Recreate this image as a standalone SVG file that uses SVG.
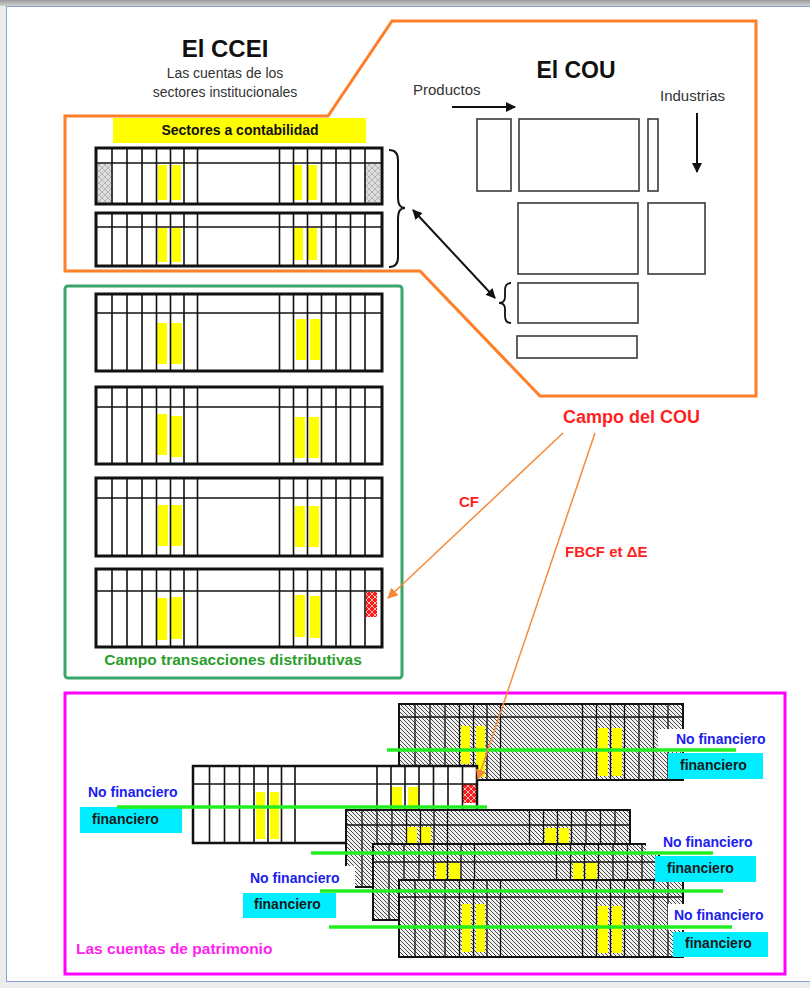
<svg xmlns="http://www.w3.org/2000/svg" width="810" height="988" viewBox="0 0 810 988">
<style>
text{font-family:"Liberation Sans",Arial,sans-serif}
.b{font-weight:bold}
.g{fill:none;stroke:#111;stroke-width:1.6}
.tb{fill:none;stroke:#111;stroke-width:3}
.hb{fill:none;stroke:#111;stroke-width:2}
.hg{fill:none;stroke:#111;stroke-width:1.3}
.y{fill:#ffff00}
.cou{fill:none;stroke:#3a3a3a;stroke-width:1.6}
.gl{stroke:#22ee22;stroke-width:3.5}
.nf{font-weight:bold;font-size:14px;fill:#2020ee}
.fi{font-weight:bold;font-size:14px;fill:#1a1a1a}
.cy{fill:#00eeff}
.wb{fill:#fff}
</style>
<defs>
<linearGradient id="sh" x1="0" y1="0" x2="0" y2="1"><stop offset="0" stop-color="#9a9a9a"/><stop offset="1" stop-color="#cfcfcf"/></linearGradient>
<pattern id="hatch" width="4" height="4" patternUnits="userSpaceOnUse"><rect width="4" height="4" fill="#f2f2f2"/><path d="M-1 -1L5 5M-1 3L1 5M3 -1L5 1" stroke="#333" stroke-width="0.9"/></pattern>
<pattern id="xg" width="6" height="6" patternUnits="userSpaceOnUse"><rect width="6" height="6" fill="#dedede"/><path d="M0 0L6 6M6 0L0 6" stroke="#b4b4b4" stroke-width="1"/></pattern>
<pattern id="xr" width="6" height="6" patternUnits="userSpaceOnUse"><rect width="6" height="6" fill="#ff1a1a"/><path d="M0 0L6 6M6 0L0 6" stroke="#ffb4b4" stroke-width="1"/></pattern>
<path id="vA" d="M16 0V77M31 0V77M46 0V77M60.5 0V77M74.5 0V77M88 0V77M101.5 0V77M183.5 0V77M197.5 0V77M211.5 0V77M225.5 0V77M240 0V77M254.5 0V77M269 0V77"/>
<path id="vB" d="M16 0V56M31 0V56M46 0V56M60.5 0V56M74.5 0V56M88 0V56M101.5 0V56M183.5 0V56M197.5 0V56M211.5 0V56M225.5 0V56M240 0V56M254.5 0V56M269 0V56"/>
<path id="vC" d="M16 0V53M31 0V53M46 0V53M60.5 0V53M74.5 0V53M88 0V53M101.5 0V53M183.5 0V53M197.5 0V53M211.5 0V53M225.5 0V53M240 0V53M254.5 0V53M269 0V53"/>
<marker id="ab" viewBox="0 0 10 10" refX="9" refY="5" markerWidth="5" markerHeight="5" orient="auto-start-reverse"><path d="M0 0L10 5L0 10z" fill="#111"/></marker>
<marker id="ao" viewBox="0 0 10 10" refX="9" refY="5" markerWidth="7" markerHeight="7" orient="auto"><path d="M0 0L10 5L0 10z" fill="#f58a3a"/></marker>
</defs>

<!-- page -->
<rect width="810" height="988" fill="#ececec"/>
<rect x="0" y="0" width="810" height="6" fill="url(#sh)"/>
<rect x="6.5" y="6.5" width="806" height="975" fill="#fff" stroke="#86a2d4" stroke-width="1"/>

<!-- CCEI / COU frame -->
<g id="frame-cou">
<polygon points="65,116 328,116 392,21 756,21 756,396 540,396 420,271 65,271" fill="none" stroke="#ff7f27" stroke-width="3"/>
</g>

<g id="ccei-title">
<text x="225" y="57" text-anchor="middle" class="b" font-size="24" fill="#111">El CCEI</text>
<text x="225" y="78" text-anchor="middle" font-size="14" fill="#333">Las cuentas de los</text>
<text x="225" y="97" text-anchor="middle" font-size="14" fill="#333">sectores institucionales</text>
</g>

<g id="sectores-label">
<rect x="113" y="118" width="253" height="25" fill="#ffff00"/>
<text x="240" y="135" text-anchor="middle" class="b" font-size="14" fill="#111">Sectores a contabilidad</text>
</g>

<g id="ccei-table1">
<rect x="96" y="148" width="286" height="56" fill="#fff"/>
<rect x="97" y="164" width="14" height="39" fill="url(#xg)"/>
<rect x="365" y="164" width="15" height="39" fill="url(#xg)"/>
<rect class="y" x="158" y="165" width="9" height="35"/><rect class="y" x="172" y="165" width="9" height="35"/>
<rect class="y" x="293" y="165" width="9" height="35"/><rect class="y" x="307" y="165" width="10" height="35"/>
<use href="#vB" x="96" y="148" class="g"/>
<path d="M96 163H382" class="g"/>
<rect x="96" y="148" width="286" height="56" class="tb"/>
</g>

<g id="ccei-table2">
<rect x="96" y="213" width="286" height="53" fill="#fff"/>
<rect class="y" x="158" y="228" width="9" height="34"/><rect class="y" x="172" y="228" width="9" height="34"/>
<rect class="y" x="294" y="228" width="9" height="32"/><rect class="y" x="308" y="228" width="9" height="32"/>
<use href="#vC" x="96" y="213" class="g"/>
<path d="M96 227H382" class="g"/>
<rect x="96" y="213" width="286" height="53" class="tb"/>
</g>

<g id="brace-ccei">
<path d="M389 150Q398 150 398 160L398 198Q398 208 405 208Q398 208 398 218L398 257Q398 267 389 267" fill="none" stroke="#111" stroke-width="2"/>
</g>

<g id="cou">
<text x="576" y="78" text-anchor="middle" class="b" font-size="23" fill="#111">El COU</text>
<text x="413" y="95" font-size="15" fill="#333">Productos</text>
<text x="660" y="101" font-size="15" fill="#333">Industrias</text>
<rect class="cou" x="477" y="119" width="34" height="72"/>
<rect class="cou" x="519" y="119" width="120" height="72"/>
<rect class="cou" x="648" y="119" width="10" height="72"/>
<rect class="cou" x="518" y="203" width="120" height="71"/>
<rect class="cou" x="648" y="203" width="57" height="71"/>
<rect class="cou" x="518" y="283" width="120" height="40"/>
<rect class="cou" x="517" y="336" width="120" height="22"/>
<path d="M511 283Q505 283 505 290L505 297Q505 303 499 303Q505 303 505 309L505 316Q505 323 511 323" fill="none" stroke="#111" stroke-width="1.8"/>
</g>

<g id="campo-cou">
<text x="563" y="423" class="b" font-size="18" fill="#ff1f1f">Campo del COU</text>
<text x="459" y="507" class="b" font-size="15" fill="#ff1f1f">CF</text>
<text x="565" y="557" class="b" font-size="15" fill="#ff1f1f">FBCF et ΔE</text>
</g>

<!-- green field -->
<g id="campo-distributivas">
<rect x="65" y="286" width="337" height="392" rx="3" fill="none" stroke="#3aa66a" stroke-width="3"/>
<text x="233" y="665" text-anchor="middle" class="b" font-size="15.5" fill="#2a9d2a">Campo transacciones distributivas</text>
</g>

<g id="dist-table1">
<rect x="96" y="294" width="286" height="77" fill="#fff"/>
<rect class="y" x="157" y="323" width="10" height="41"/><rect class="y" x="171" y="323" width="11" height="41"/>
<rect class="y" x="296" y="319" width="10" height="41"/><rect class="y" x="310" y="319" width="10" height="41"/>
<use href="#vA" x="96" y="294" class="g"/>
<path d="M96 313H382" class="g"/>
<rect x="96" y="294" width="286" height="77" class="tb"/>
</g>
<g id="dist-table2">
<rect x="96" y="387" width="286" height="77" fill="#fff"/>
<rect class="y" x="157" y="414" width="10" height="41"/><rect class="y" x="171" y="416" width="11" height="41"/>
<rect class="y" x="295" y="417" width="10" height="41"/><rect class="y" x="309" y="417" width="10" height="41"/>
<use href="#vA" x="96" y="387" class="g"/>
<path d="M96 407H382" class="g"/>
<rect x="96" y="387" width="286" height="77" class="tb"/>
</g>
<g id="dist-table3">
<rect x="96" y="478" width="286" height="78" fill="#fff"/>
<rect class="y" x="158" y="505" width="10" height="41"/><rect class="y" x="171" y="505" width="11" height="41"/>
<rect class="y" x="295" y="506" width="10" height="41"/><rect class="y" x="309" y="506" width="10" height="41"/>
<use href="#vA" x="96" y="478" class="g"/>
<path d="M96 498H382" class="g"/>
<rect x="96" y="478" width="286" height="78" class="tb"/>
</g>
<g id="dist-table4">
<rect x="96" y="569" width="286" height="78" fill="#fff"/>
<rect class="y" x="157" y="598" width="10" height="42"/><rect class="y" x="171" y="597" width="11" height="42"/>
<rect class="y" x="295" y="595" width="10" height="42"/><rect class="y" x="310" y="596" width="10" height="42"/>
<rect x="366" y="592" width="11" height="25" fill="url(#xr)"/>
<use href="#vA" x="96" y="569" class="g"/>
<path d="M96 591H382" class="g"/>
<rect x="96" y="569" width="286" height="78" class="tb"/>
</g>

<!-- patrimonio -->
<g id="patrimonio">
<rect x="65" y="693" width="720" height="281" fill="none" stroke="#ff00ff" stroke-width="3"/>
<text x="76" y="954" class="b" font-size="15.5" fill="#ff22ee">Las cuentas de patrimonio</text>
</g>

<g id="pat-h1">
<rect x="399" y="704" width="284" height="76" fill="url(#hatch)"/>
<rect class="y" x="461" y="726" width="9" height="38"/><rect class="y" x="476" y="726" width="9" height="51"/>
<rect class="y" x="598" y="728" width="10" height="48"/><rect class="y" x="612" y="728" width="10" height="48"/>
<use href="#vA" x="399" y="704" class="hg"/>
<path d="M399 717H683" class="hg"/>
<rect x="399" y="704" width="284" height="76" class="hb"/>
</g>

<g id="pat-w">
<rect x="193" y="766" width="284" height="77" fill="#fff"/>
<rect class="y" x="256" y="792" width="9" height="47"/><rect class="y" x="270" y="792" width="9" height="47"/>
<rect class="y" x="392" y="787" width="10" height="40"/><rect class="y" x="408" y="787" width="10" height="40"/>
<rect x="463" y="784" width="13" height="19" fill="url(#xr)"/>
<use href="#vA" x="193.5" y="766" class="g"/>
<path d="M193 784H477" class="g"/>
<rect x="193" y="766" width="284" height="77" fill="none" stroke="#111" stroke-width="2.5"/>
</g>

<g id="pat-h2">
<rect x="346" y="810" width="284" height="77" fill="url(#hatch)"/>
<rect class="y" x="407" y="827" width="10" height="30"/><rect class="y" x="421" y="827" width="10" height="30"/>
<rect class="y" x="545" y="828" width="11" height="30"/><rect class="y" x="559" y="828" width="10" height="30"/>
<use href="#vA" x="346" y="810" class="hg"/>
<path d="M346 825H630" class="hg"/>
<rect x="346" y="810" width="284" height="77" class="hb"/>
</g>

<g id="pat-h3">
<rect x="373" y="844" width="286" height="76" fill="url(#hatch)"/>
<rect class="y" x="436" y="863" width="10" height="30"/><rect class="y" x="449" y="863" width="11" height="30"/>
<rect class="y" x="573" y="863" width="10" height="30"/><rect class="y" x="586" y="863" width="11" height="30"/>
<use href="#vA" x="373" y="844" class="hg"/>
<path d="M373 862H659" class="hg"/>
<rect x="373" y="844" width="286" height="76" class="hb"/>
</g>

<g id="pat-h4">
<rect x="399" y="880" width="284" height="77" fill="url(#hatch)"/>
<rect class="y" x="462" y="904" width="9" height="48"/><rect class="y" x="476" y="904" width="9" height="48"/>
<rect class="y" x="598" y="906" width="10" height="47"/><rect class="y" x="612" y="906" width="10" height="47"/>
<use href="#vA" x="399" y="880" class="hg"/>
<path d="M399 897H683" class="hg"/>
<rect x="399" y="880" width="284" height="77" class="hb"/>
</g>

<g id="pat-labels-bg">
<rect class="wb" x="658" y="729" width="112" height="23"/>
<rect class="cy" x="668" y="753" width="95" height="26"/>
<rect class="cy" x="80" y="807" width="102" height="26"/>
<rect class="wb" x="646" y="834" width="114" height="21"/>
<rect class="cy" x="655" y="856" width="101" height="26"/>
<rect class="wb" x="245" y="866" width="110" height="23"/>
<rect class="cy" x="243" y="893" width="93" height="25"/>
<rect class="wb" x="668" y="904" width="100" height="26"/>
<rect class="cy" x="673" y="932" width="95" height="25"/>
</g>

<g id="green-lines">
<line class="gl" x1="387" y1="750" x2="736" y2="750"/>
<line class="gl" x1="117" y1="807" x2="487" y2="807"/>
<line class="gl" x1="311" y1="853" x2="713" y2="853"/>
<line class="gl" x1="320" y1="891" x2="723" y2="891"/>
<line class="gl" x1="329" y1="927" x2="732" y2="927"/>
</g>

<g id="pat-labels">
<text class="nf" x="676" y="744">No financiero</text>
<text class="fi" x="680" y="770">financiero</text>
<text class="nf" x="88" y="797">No financiero</text>
<text class="fi" x="92" y="824">financiero</text>
<text class="nf" x="663" y="847">No financiero</text>
<text class="fi" x="667" y="873">financiero</text>
<text class="nf" x="250" y="883">No financiero</text>
<text class="fi" x="254" y="909">financiero</text>
<text class="nf" x="674" y="920">No financiero</text>
<text class="fi" x="685" y="948">financiero</text>
</g>

<g id="connectors">
<line x1="452" y1="107" x2="515" y2="107" stroke="#111" stroke-width="2" marker-end="url(#ab)"/>
<line x1="697" y1="113" x2="697" y2="172" stroke="#111" stroke-width="2" marker-end="url(#ab)"/>
<line x1="413" y1="210" x2="495" y2="298" stroke="#111" stroke-width="2" marker-start="url(#ab)" marker-end="url(#ab)"/>
<line x1="563" y1="433" x2="388" y2="598" stroke="#f58a3a" stroke-width="1.5" marker-end="url(#ao)"/>
<line x1="595" y1="433" x2="478" y2="779" stroke="#f58a3a" stroke-width="1.5" marker-end="url(#ao)"/>
</g>
</svg>
